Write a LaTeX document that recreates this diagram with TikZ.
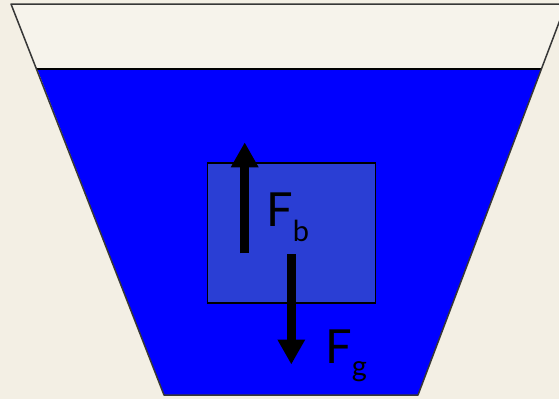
\documentclass[tikz,border=0pt]{standalone}
\usepackage{fontspec}
\setmainfont{Lato}
\usetikzlibrary{arrows.meta}
\definecolor{bgbeige}{RGB}{243,239,228}
\definecolor{cupin}{RGB}{246,243,235}
\definecolor{water}{RGB}{0,0,255}
\definecolor{block}{RGB}{42,62,212}
\definecolor{rim}{RGB}{55,55,55}
\tikzset{
  force/.style={line width=9pt, -{Triangle[width=26pt,length=25pt]}},
  lbl/.style={anchor=base west, inner sep=0pt, font=\fontsize{47}{47}\selectfont},
}
\newcommand{\subx}[2]{\raisebox{#1}{\fontsize{29}{29}\selectfont #2}}
\begin{document}
\begin{tikzpicture}[x=1pt,y=-1pt]
\useasboundingbox (0,0) rectangle (559,399);
\fill[bgbeige] (0,0) rectangle (559,399);
% container interior
\fill[cupin] (11,4) -- (566,4) -- (418,395) -- (164,395) -- cycle;
% water
\fill[water] (37.2,69) -- (541.4,69) -- (418,395) -- (164,395) -- cycle;
\draw[black, line width=1.2pt] (37.2,69) -- (541.4,69);
% container outline
\draw[rim, line width=1.5pt, line join=round] (566,4) -- (11,4) -- (164,395) -- (418,395) -- (566,4);
% block
\node[draw=black, line width=1.2pt, fill=block, minimum width=168pt, minimum height=140pt, inner sep=0pt, anchor=north west] (blk) at (206.7,162.3) {};
% forces
\coordinate (bt) at (244.7,253.3);
\coordinate (bh) at (244.7,142.3);
\coordinate (gt) at (291.3,254);
\coordinate (gh) at (291.3,364.5);
\draw[force] (bt) -- (bh);
\draw[force] (gt) -- (gh);
\node[lbl] (fb) at (266,226.7) {F\subx{-15pt}{b}};
\node[lbl] (fg) at (325,363) {F\subx{-13pt}{g}};
\end{tikzpicture}
\end{document}
